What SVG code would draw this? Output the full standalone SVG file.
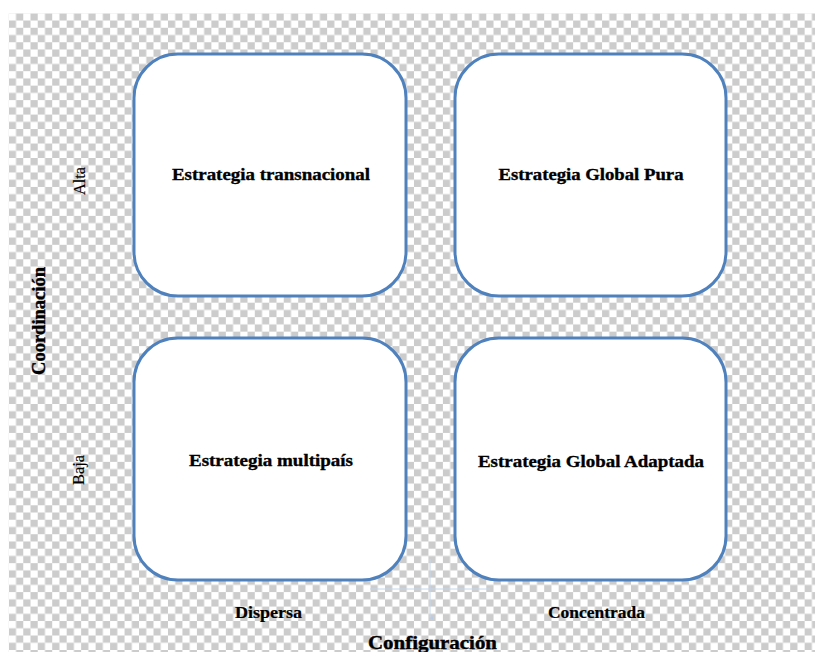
<svg xmlns="http://www.w3.org/2000/svg" width="817" height="652" viewBox="0 0 817 652">
  <defs>
    <!-- transparency checkerboard backdrop -->
    <pattern id="checker" patternUnits="userSpaceOnUse" x="8.8" y="13.3" width="14.47" height="14.47">
      <rect x="0" y="0" width="14.47" height="14.47" fill="#ffffff"/>
      <rect x="7.235" y="0" width="7.235" height="7.235" fill="#cccccc"/>
      <rect x="0" y="7.235" width="7.235" height="7.235" fill="#cccccc"/>
    </pattern>
    <marker id="tip" viewBox="0 0 6 6" refX="3" refY="5" markerWidth="4" markerHeight="4" orient="auto-start-reverse">
      <path d="M0,0 L3,6 L6,0 Z" fill="#b8cbe6"/>
    </marker>
  </defs>
  <style>
    .box { fill: #ffffff; stroke: #4f81bd; stroke-width: 3; }
    .lbl { font-family: "Liberation Serif", "Times New Roman", serif; font-weight: bold; font-size: 17px; fill: #000000; stroke: #000000; stroke-width: 0.35; text-anchor: middle; }
    .axis { font-family: "Liberation Serif", "Times New Roman", serif; font-size: 17px; fill: #000000; stroke: #000000; stroke-width: 0.15; text-anchor: middle; }
    .axisb { font-family: "Liberation Serif", "Times New Roman", serif; font-weight: bold; font-size: 16px; fill: #000000; stroke: #000000; stroke-width: 0.2; text-anchor: middle; }
    .title { font-family: "Liberation Serif", "Times New Roman", serif; font-weight: bold; font-size: 18.5px; fill: #000000; stroke: #000000; stroke-width: 0.4; text-anchor: middle; }
    .guide { stroke: #c6d6ee; stroke-width: 1; fill: none; }
  </style>

  <rect x="0" y="0" width="817" height="652" fill="#ffffff"/>
  <rect x="8.8" y="13.3" width="806.2" height="638.7" fill="url(#checker)"/>

  <!-- faint axis guides -->
  <g id="connectors">
    <line class="guide" x1="370" y1="589" x2="490" y2="589"/>
    <line class="guide" x1="430" y1="559" x2="430" y2="618" marker-end="url(#tip)"/>
  </g>

  <g id="node-transnacional">
    <rect class="box" x="134" y="54" width="272" height="242" rx="44" ry="44"/>
    <text class="lbl" x="271" y="180" textLength="198" lengthAdjust="spacingAndGlyphs">Estrategia transnacional</text>
  </g>
  <g id="node-global-pura">
    <rect class="box" x="455" y="54" width="271" height="242" rx="44" ry="44"/>
    <text class="lbl" x="591" y="180" textLength="185" lengthAdjust="spacingAndGlyphs">Estrategia Global Pura</text>
  </g>
  <g id="node-multipais">
    <rect class="box" x="134" y="338" width="272" height="242" rx="44" ry="44"/>
    <text class="lbl" x="271" y="466" textLength="164" lengthAdjust="spacingAndGlyphs">Estrategia multipaís</text>
  </g>
  <g id="node-global-adaptada">
    <rect class="box" x="455" y="338" width="271" height="242" rx="44" ry="44"/>
    <text class="lbl" x="591" y="467" textLength="226" lengthAdjust="spacingAndGlyphs">Estrategia Global Adaptada</text>
  </g>

  <!-- vertical axis -->
  <g id="axis-coordinacion">
    <text class="title" transform="translate(45,321) rotate(-90)" x="0" y="0" textLength="108" lengthAdjust="spacingAndGlyphs">Coordinación</text>
    <text class="axis" transform="translate(85,181) rotate(-90)" x="0" y="0" textLength="28" lengthAdjust="spacingAndGlyphs">Alta</text>
    <text class="axis" transform="translate(84,470) rotate(-90)" x="0" y="0" textLength="30" lengthAdjust="spacingAndGlyphs">Baja</text>
  </g>

  <!-- horizontal axis -->
  <g id="axis-configuracion">
    <text class="axisb" x="268.5" y="618" textLength="67" lengthAdjust="spacingAndGlyphs">Dispersa</text>
    <text class="axisb" x="596.5" y="618" textLength="97" lengthAdjust="spacingAndGlyphs">Concentrada</text>
    <text class="title" x="432.5" y="649" textLength="129" lengthAdjust="spacingAndGlyphs">Configuración</text>
  </g>
</svg>
